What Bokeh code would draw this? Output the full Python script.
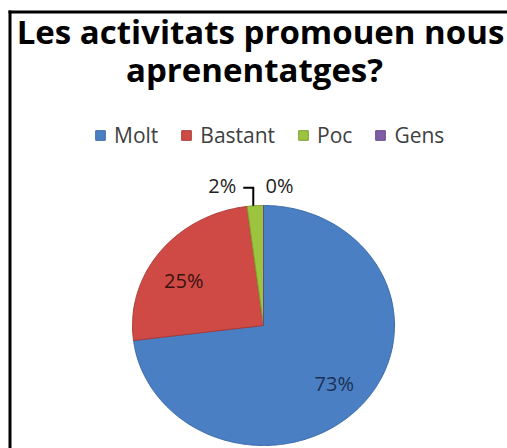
import numpy as np
from bokeh.plotting import figure
from bokeh.models import Legend, LegendItem, Label, Range1d
from bokeh.embed import file_html
from bokeh.resources import INLINE

# ---- data ----
title_lines = ["Les activitats promouen nous", "aprenentatges?"]
categories = ["Molt", "Bastant", "Poc", "Gens"]
percentages = [73, 25, 2, 0]
pct_labels = ["73%", "25%", "2%", "0%"]
colors = ["#4a7fc4", "#cf4a45", "#9cc43f", "#7e5fa6"]
edge_colors = ["#3a68a8", "#a83a36", "#7e9e30", "#65498a"]
label_colors = ["#1c2f55", "#3a1210", "#222222", "#222222"]

W, H = 507, 448
p = figure(width=W, height=H, x_range=Range1d(0, W), y_range=Range1d(0, H),
           output_backend="svg", toolbar_location=None,
           x_axis_location=None, y_axis_location=None,
           min_border=0, min_border_left=0, min_border_right=0,
           min_border_top=0, min_border_bottom=0)
p.grid.visible = False
p.outline_line_color = None
p.background_fill_color = "white"
p.border_fill_color = "white"

# frame border of the original picture (cropped at right/bottom), as filled bars
p.quad(left=[8, 8], right=[11, W], bottom=[0, 435], top=[438, 438],
       fill_color="black", line_color=None)

# ---- pie (slightly elliptical, clockwise from top) ----
cx, cy, rx, ry = 263, 123, 131, 120
fr = np.array(percentages, dtype=float) / sum(percentages)
ends = 90 - np.cumsum(fr) * 360
starts = np.concatenate([[90], ends[:-1]])

renderers = []
for cat, a0, a1, col, ec in zip(categories, starts, ends, colors, edge_colors):
    n = max(2, int(abs(a0 - a1) * 2))
    t = np.radians(np.linspace(a0, a1, n))
    xs = np.concatenate([[cx], cx + rx * np.cos(t), [cx]])
    ys = np.concatenate([[cy], cy + ry * np.sin(t), [cy]])
    r = p.patch(xs, ys, fill_color=col, line_color=ec, line_width=1)
    renderers.append(r)

mids = np.radians((starts + ends) / 2)
font = "Open Sans"

# inside labels
label_fx = [0.72, 0.77]
label_fy = [0.73, 0.61]
for i in range(2):
    m = mids[i]
    p.add_layout(Label(x=cx + rx * label_fx[i] * np.cos(m),
                       y=cy + ry * label_fy[i] * np.sin(m),
                       text=pct_labels[i], text_align="center",
                       text_baseline="middle", text_font=font,
                       text_font_size="20px", text_color=label_colors[i]))

# outside label for "Poc" with leader line
mp = mids[2]
ex, ey = cx + rx * np.cos(mp) - 2, cy + ry * np.sin(mp)
lead_top = ey + 18
p.line(x=[ex - 10, ex, ex], y=[lead_top, lead_top, ey], line_width=2,
       line_color="black", line_join="miter")
p.add_layout(Label(x=ex - 17, y=lead_top + 2, text=pct_labels[2],
                   text_align="right", text_baseline="middle", text_font=font,
                   text_font_size="20px", text_color=label_colors[2]))
# outside label for "Gens"
mg = np.radians(starts[3])
p.add_layout(Label(x=cx + rx * np.cos(mg) + 2, y=cy + ry * np.sin(mg) + 20,
                   text=pct_labels[3], text_align="left",
                   text_baseline="middle", text_font=font,
                   text_font_size="20px", text_color=label_colors[3]))

# ---- title ----
p.add_layout(Label(x=260, y=448 - 31, text=title_lines[0], text_align="center",
                   text_baseline="alphabetic", text_font=font,
                   text_font_style="bold", text_font_size="33px",
                   text_color="black"))
p.add_layout(Label(x=254, y=448 - 69, text=title_lines[1], text_align="center",
                   text_baseline="alphabetic", text_font=font,
                   text_font_style="bold", text_font_size="33px",
                   text_color="black"))

# ---- legend ----
legend = Legend(items=[LegendItem(label=c, renderers=[r]) for c, r in zip(categories, renderers)],
                orientation="horizontal", location=(94, 299),
                glyph_width=12, glyph_height=12, label_standoff=8, spacing=22,
                padding=0, margin=0, border_line_color=None,
                background_fill_alpha=0, label_text_font=font,
                label_text_font_size="21px", label_text_color="#404040",
                label_height=20)
p.add_layout(legend)

open("out.html", "w").write(file_html(p, INLINE))
